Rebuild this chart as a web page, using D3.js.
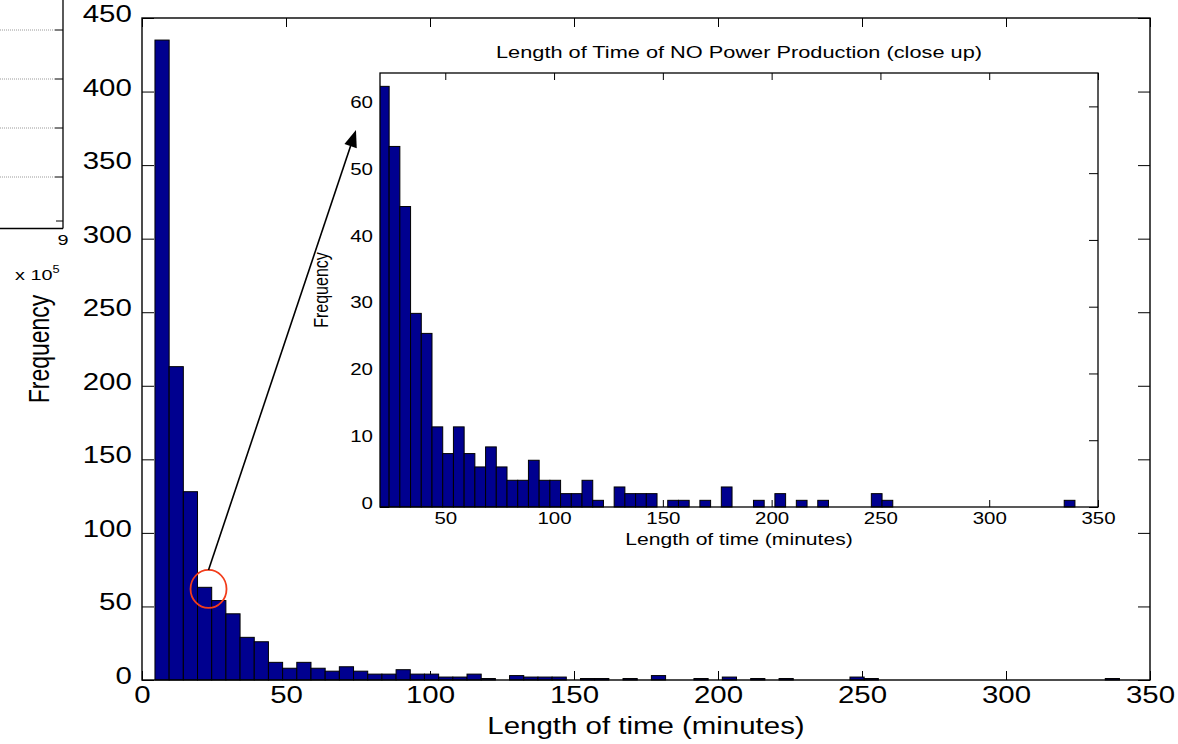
<!DOCTYPE html>
<html>
<head>
<meta charset="utf-8">
<script src="https://cdn.jsdelivr.net/npm/d3@7"></script>
<style>
  body { margin: 0; background: #fff; }
  svg { display: block; }
  text { font-family: "Liberation Sans", Arial, Helvetica, sans-serif; fill: #000; }
</style>
</head>
<body>
<svg id="chart" width="1178" height="744"></svg>
<script>
// Histogram of outage lengths: 68 bins of equal width
const binStart = 4.5;
const binWidth = 4.925;
const counts = [
  435, 213, 128, 63, 54, 45, 29, 26, 12, 8, 12, 8, 6, 9, 6, 4, 4, 7, 4, 4, 2, 2, 4, 1,
  0, 3, 2, 2, 2, 0, 1, 1, 0, 1, 0, 3, 0, 0, 1, 0, 2, 0, 1, 0, 1, 0, 0, 0, 0, 2, 1,
  0, 0, 0, 0, 0, 0, 0, 0, 0, 0, 0, 0, 0, 0, 0, 0, 1
];

const mainXTicks = [0, 50, 100, 150, 200, 250, 300, 350];
const mainYTicks = [0, 50, 100, 150, 200, 250, 300, 350, 400, 450];
const insetXTicks = [50, 100, 150, 200, 250, 300, 350];
const insetYTicks = [0, 10, 20, 30, 40, 50, 60];

const mainXDomain = [0, 350];
const mainYDomain = [0, 450];
const insetXDomain = [20, 350];
const insetYDomain = [0, 65];

// highlighted region and where the arrow points (data coordinates of the main axes)
const highlight = { x: 23.1, y: 61.9 };
const arrowFrom = { x: 23.1, y: 74.8 };
const arrowTo = { x: 74.3, y: 373.9 };

// partial panel of a neighbouring figure at the left edge
const fragGrid = [1, 2, 3, 4];
const fragXLabel = "9";

const SX = 1.28;            // horizontal text stretch
const BAR = "#00008f";

const svg = d3.select("#chart");

const bins = counts.map((c, i) => ({ x0: binStart + i * binWidth, x1: binStart + (i + 1) * binWidth, c }));

function styleLabels(g, size) {
  g.attr("font-family", null).attr("font-size", null);
  g.selectAll("text")
    .style("font-size", size + "px")
    .attr("transform", `scale(${SX},1)`);
  g.selectAll("line").attr("stroke", "#000");
}

function stretchedText(parent, str, x, y, size, rotate) {
  return parent.append("text")
    .attr("transform", `translate(${x},${y}) scale(${SX},1)` + (rotate ? " rotate(-90)" : ""))
    .attr("text-anchor", "middle")
    .style("font-size", size + "px")
    .text(str);
}

// ---------- fragment at the left edge ----------
const frag = svg.append("g");
const fy = d3.scaleLinear().domain([0, 4]).range([226, 30]);
const fx = d3.scaleLinear().domain([8.2, 9]).range([-10, 63]);
frag.selectAll("line.grid").data(fragGrid).join("line")
  .attr("x1", 0).attr("x2", fx(9) - 8)
  .attr("y1", d => fy(d)).attr("y2", d => fy(d))
  .attr("stroke", "#9a9a9a").attr("stroke-width", 1).attr("stroke-dasharray", "1,1");
frag.selectAll("line.tk").data(fragGrid).join("line")
  .attr("x1", fx(9) - 8).attr("x2", fx(9))
  .attr("y1", d => fy(d)).attr("y2", d => fy(d))
  .attr("stroke", "#000").attr("stroke-width", 1);
frag.append("line").attr("x1", fx(9) - 7).attr("x2", fx(9)).attr("y1", 221).attr("y2", 221).attr("stroke", "#000");
frag.append("line").attr("x1", fx(9)).attr("x2", fx(9)).attr("y1", 0).attr("y2", 228.5).attr("stroke", "#000").attr("stroke-width", 1.3);
frag.append("line").attr("x1", 0).attr("x2", fx(9)).attr("y1", 228.5).attr("y2", 228.5).attr("stroke", "#000").attr("stroke-width", 1.3);
stretchedText(frag, fragXLabel, fx(9), 245, 15.5);
const fr = frag.append("text").attr("transform", `translate(15,280) scale(${SX},1)`).style("font-size", "15.5px");
fr.append("tspan").text("x 10");
fr.append("tspan").attr("dy", -7).style("font-size", "10px").text("5");

// ---------- main axes ----------
const M = { l: 142, r: 1150, t: 18, b: 680 };
const x = d3.scaleLinear().domain(mainXDomain).range([M.l, M.r]);
const y = d3.scaleLinear().domain(mainYDomain).range([M.b, M.t]);

const gxb = svg.append("g").attr("transform", `translate(0,${M.b})`)
  .call(d3.axisBottom(x).tickValues(mainXTicks).tickSizeInner(-9).tickSizeOuter(0).tickPadding(7));
const gxt = svg.append("g").attr("transform", `translate(0,${M.t})`)
  .call(d3.axisTop(x).tickValues(mainXTicks).tickSizeInner(-9).tickSizeOuter(0).tickFormat(""));
const gyl = svg.append("g").attr("transform", `translate(${M.l},0)`)
  .call(d3.axisLeft(y).tickValues(mainYTicks).tickSizeInner(-12).tickSizeOuter(0).tickPadding(8));
const gyr = svg.append("g").attr("transform", `translate(${M.r},0)`)
  .call(d3.axisRight(y).tickValues(mainYTicks).tickSizeInner(-12).tickSizeOuter(0).tickFormat(""));
[gxb, gxt, gyl, gyr].forEach(g => { g.select(".domain").remove(); styleLabels(g, 23); });
gyl.selectAll("text").attr("dy", "0.15em");

svg.append("g").selectAll("rect").data(bins.filter(d => d.c > 0)).join("rect")
  .attr("x", d => x(d.x0)).attr("width", d => x(d.x1) - x(d.x0))
  .attr("y", d => y(d.c)).attr("height", d => y(0) - y(d.c))
  .attr("fill", BAR).attr("stroke", "#000").attr("stroke-width", 1);

svg.append("rect").attr("x", M.l).attr("y", M.t).attr("width", M.r - M.l).attr("height", M.b - M.t)
  .attr("fill", "none").attr("stroke", "#000").attr("stroke-width", 1.4);

stretchedText(svg, "Length of time (minutes)", (M.l + M.r) / 2, 734, 23);
stretchedText(svg, "Frequency", 49, (M.t + M.b) / 2, 23, true);

// ---------- inset (close up) ----------
const I = { l: 380, r: 1098, t: 73, b: 507 };
const xi = d3.scaleLinear().domain(insetXDomain).range([I.l, I.r]);
const yi = d3.scaleLinear().domain(insetYDomain).range([I.b, I.t]);

const inset = svg.append("g");
inset.append("rect").attr("x", I.l).attr("y", I.t).attr("width", I.r - I.l).attr("height", I.b - I.t).attr("fill", "#fff");
svg.append("clipPath").attr("id", "insetClip").append("rect")
  .attr("x", I.l).attr("y", I.t - 2).attr("width", I.r - I.l).attr("height", I.b - I.t + 4);

const ixb = inset.append("g").attr("transform", `translate(0,${I.b})`)
  .call(d3.axisBottom(xi).tickValues(insetXTicks).tickSizeInner(-7).tickSizeOuter(0).tickPadding(6));
const ixt = inset.append("g").attr("transform", `translate(0,${I.t})`)
  .call(d3.axisTop(xi).tickValues(insetXTicks).tickSizeInner(-7).tickSizeOuter(0).tickFormat(""));
const iyl = inset.append("g").attr("transform", `translate(${I.l},0)`)
  .call(d3.axisLeft(yi).tickValues(insetYTicks).tickSizeInner(-9).tickSizeOuter(0).tickPadding(5.5));
const iyr = inset.append("g").attr("transform", `translate(${I.r},0)`)
  .call(d3.axisRight(yi).tickValues(insetYTicks).tickSizeInner(-9).tickSizeOuter(0).tickFormat(""));
[ixb, ixt, iyl, iyr].forEach(g => { g.select(".domain").remove(); styleLabels(g, 16); });
iyl.selectAll("text").attr("dy", "0.08em");

inset.append("g").attr("clip-path", "url(#insetClip)")
  .selectAll("rect").data(bins.filter(d => d.c > 0 && d.x1 > insetXDomain[0])).join("rect")
  .attr("x", d => xi(d.x0)).attr("width", d => xi(d.x1) - xi(d.x0))
  .attr("y", d => yi(d.c)).attr("height", d => yi(0) - yi(d.c))
  .attr("fill", BAR).attr("stroke", "#000").attr("stroke-width", 1);

inset.append("rect").attr("x", I.l).attr("y", I.t).attr("width", I.r - I.l).attr("height", I.b - I.t)
  .attr("fill", "none").attr("stroke", "#000").attr("stroke-width", 1.3);

stretchedText(inset, "Length of Time of NO Power Production (close up)", (I.l + I.r) / 2, 58, 17);
stretchedText(inset, "Length of time (minutes)", (I.l + I.r) / 2, 545, 16.5);
stretchedText(inset, "Frequency", 328, (I.t + I.b) / 2, 16, true);

// ---------- annotation: circle and arrow ----------
svg.append("ellipse")
  .attr("cx", x(highlight.x)).attr("cy", y(highlight.y)).attr("rx", 18).attr("ry", 19)
  .attr("fill", "none").attr("stroke", "#f23c1a").attr("stroke-width", 1.8);

const ax0 = x(arrowFrom.x), ay0 = y(arrowFrom.y), ax1 = x(arrowTo.x), ay1 = y(arrowTo.y);
const ang = Math.atan2(ay1 - ay0, ax1 - ax0);
const headLen = 17, headHalf = 6.5;
const bx = ax1 - headLen * Math.cos(ang), by = ay1 - headLen * Math.sin(ang);
svg.append("line").attr("x1", ax0).attr("y1", ay0).attr("x2", bx).attr("y2", by)
  .attr("stroke", "#000").attr("stroke-width", 1.6);
svg.append("polygon")
  .attr("points", [
    [ax1, ay1],
    [bx + headHalf * Math.sin(ang), by - headHalf * Math.cos(ang)],
    [bx - headHalf * Math.sin(ang), by + headHalf * Math.cos(ang)]
  ].map(p => p.join(",")).join(" "))
  .attr("fill", "#000");
</script>
</body>
</html>
